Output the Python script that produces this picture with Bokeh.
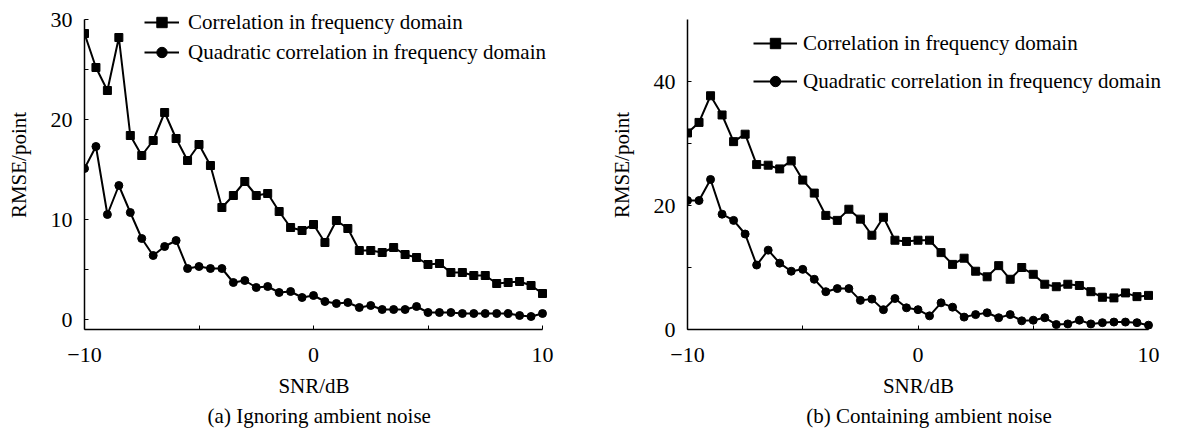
from bokeh.plotting import figure
from bokeh.layouts import row
from bokeh.models import (Range1d, FixedTicker, Legend, LegendItem, Title,
                          ColumnDataSource)
from bokeh.embed import file_html
from bokeh.resources import INLINE

snr = [-10, -9.5, -9, -8.5, -8, -7.5, -7, -6.5, -6, -5.5, -5, -4.5, -4, -3.5,
       -3, -2.5, -2, -1.5, -1, -0.5, 0, 0.5, 1, 1.5, 2, 2.5, 3, 3.5, 4, 4.5,
       5, 5.5, 6, 6.5, 7, 7.5, 8, 8.5, 9, 9.5, 10]

# (a) Ignoring ambient noise
a_corr = [28.6, 25.2, 22.9, 28.2, 18.4, 16.4, 17.9, 20.7, 18.1, 15.9, 17.5,
          15.4, 11.2, 12.4, 13.8, 12.4, 12.6, 10.8, 9.2, 8.9, 9.5, 7.7, 9.9,
          9.1, 6.9, 6.9, 6.7, 7.2, 6.5, 6.2, 5.5, 5.6, 4.7, 4.7, 4.4, 4.4,
          3.6, 3.7, 3.8, 3.4, 2.6]
a_quad = [15.1, 17.3, 10.5, 13.4, 10.7, 8.1, 6.4, 7.3, 7.9, 5.1, 5.3, 5.1,
          5.1, 3.7, 3.9, 3.2, 3.3, 2.7, 2.8, 2.2, 2.4, 1.8, 1.6, 1.7, 1.2,
          1.4, 1.0, 1.0, 1.0, 1.3, 0.7, 0.7, 0.7, 0.6, 0.6, 0.6, 0.6, 0.6,
          0.4, 0.3, 0.6]

# (b) Containing ambient noise
b_corr = [31.7, 33.4, 37.7, 34.6, 30.3, 31.5, 26.6, 26.5, 25.9, 27.2, 24.1,
          22.0, 18.4, 17.6, 19.4, 17.8, 15.2, 18.1, 14.4, 14.2, 14.4, 14.4,
          12.4, 10.5, 11.5, 9.4, 8.5, 10.3, 8.1, 10.0, 8.9, 7.3, 6.9, 7.3,
          7.1, 6.1, 5.2, 5.1, 5.9, 5.3, 5.5]
b_quad = [20.8, 20.8, 24.2, 18.6, 17.6, 15.4, 10.4, 12.8, 10.7, 9.4, 9.7,
          8.1, 6.1, 6.6, 6.6, 4.7, 4.9, 3.2, 5.0, 3.5, 3.2, 2.2, 4.3, 3.6,
          2.0, 2.4, 2.7, 1.9, 2.4, 1.4, 1.5, 1.9, 0.8, 0.9, 1.5, 0.9, 1.1,
          1.2, 1.2, 1.1, 0.7]

series_names = ["Correlation in frequency domain",
                "Quadratic correlation in frequency domain"]
captions = ["(a) Ignoring ambient noise", "(b) Containing ambient noise"]
x_label = "SNR/dB"
y_label = "RMSE/point"

FONT = "Liberation Serif"
H = 430
TOP_PAD = 19      # px of frame above the top of the axis
AXIS_H = 310      # px height of the drawn axis
RIGHT_PAD = 22    # px of frame right of the x axis end (room for legend)
X0, X1 = -10, 10
EM = "\u2003"     # trailing em space re-centres texts on the axis (not the padded frame)
EN = "\u2002"


def make_panel(corr, quad, ylo, yhi, yticks, yminor, caption, mbl, axis_w,
               mbr, leg_x, leg_y, glyph_w, standoff, spacing):
    y_end = yhi + TOP_PAD * (yhi - ylo) / AXIS_H
    x_end = X1 + RIGHT_PAD * (X1 - X0) / axis_w
    width = mbl + axis_w + RIGHT_PAD + mbr
    p = figure(width=width, height=H, output_backend="svg",
               toolbar_location=None, x_range=Range1d(X0, x_end),
               y_range=Range1d(ylo, y_end), min_border_left=mbl,
               min_border_right=mbr, min_border_top=0,
               min_border_bottom=H - TOP_PAD - AXIS_H)
    p.outline_line_color = None
    p.grid.visible = False
    p.background_fill_color = "white"
    p.border_fill_color = "white"

    src = ColumnDataSource(dict(x=snr, c=corr, q=quad))
    l1 = p.line("x", "c", source=src, line_color="black", line_width=2)
    m1 = p.scatter("x", "c", source=src, marker="square", size=8,
                   fill_color="black", line_color="black")
    l2 = p.line("x", "q", source=src, line_color="black", line_width=2)
    m2 = p.scatter("x", "q", source=src, marker="circle", size=8,
                   fill_color="black", line_color="black")

    leg = Legend(items=[LegendItem(label=series_names[0], renderers=[l1, m1]),
                        LegendItem(label=series_names[1], renderers=[l2, m2])],
                 location=(leg_x, leg_y), border_line_alpha=0,
                 background_fill_alpha=0, padding=0, margin=0,
                 glyph_width=glyph_w, glyph_height=26, label_height=26,
                 spacing=spacing, label_standoff=standoff,
                 label_text_font=FONT, label_text_font_size="21px",
                 label_text_color="black")
    p.add_layout(leg, "center")

    for ax in (p.xaxis[0], p.yaxis[0]):
        ax.axis_line_color = "black"
        ax.axis_line_width = 1.5
        ax.major_tick_line_color = "black"
        ax.minor_tick_line_color = "black"
        ax.major_tick_in = 4
        ax.major_tick_out = 0
        ax.minor_tick_in = 4
        ax.minor_tick_out = 0
        ax.major_label_text_font = FONT
        ax.major_label_text_font_size = "22px"
        ax.major_label_text_color = "black"
        ax.axis_label_text_font = FONT
        ax.axis_label_text_font_size = "21px"
        ax.axis_label_text_font_style = "normal"
        ax.axis_label_text_color = "black"

    p.xaxis[0].bounds = (X0, X1)
    p.xaxis[0].ticker = FixedTicker(ticks=[-10, 0, 10], minor_ticks=[-5, 5])
    p.xaxis[0].major_label_overrides = {-10: "\u221210"}
    p.xaxis[0].major_label_standoff = 18
    p.xaxis[0].axis_label = x_label + EM
    p.xaxis[0].axis_label_standoff = 9

    p.yaxis[0].bounds = (ylo, yhi)
    p.yaxis[0].ticker = FixedTicker(ticks=yticks, minor_ticks=yminor)
    p.yaxis[0].major_label_standoff = 12
    p.yaxis[0].axis_label = y_label
    p.yaxis[0].axis_label_standoff = 17

    t = Title(text=caption, align="center", text_font=FONT,
              text_font_size="21px", text_font_style="normal",
              text_color="black", standoff=3)
    p.add_layout(t, "below")
    return p


p1 = make_panel(a_corr, a_quad, -1, 30, [0, 10, 20, 30], [5, 15, 25],
                captions[0] + EN, 84, 458, 34, 60, 264, 35, 9, 4)
p2 = make_panel(b_corr, b_quad, 0, 50, [0, 20, 40], [10, 30],
                captions[1], 89, 461, 0, 66, 235, 44, 6, 12)

layout = row(p1, p2)
open("out.html", "w").write(file_html(layout, INLINE))
